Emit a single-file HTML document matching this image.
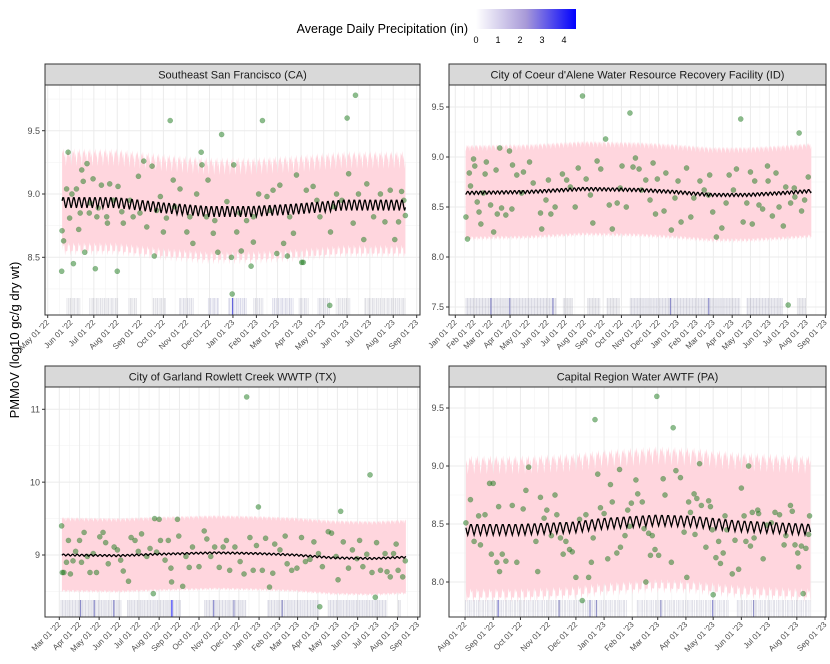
<!DOCTYPE html>
<html><head><meta charset="utf-8"><style>
html,body{margin:0;padding:0;background:#fff}
svg{display:block;font-family:"Liberation Sans",Arial,sans-serif}
</style></head><body>
<svg id="chart" width="830" height="664" viewBox="0 0 830 664">
<defs>
<linearGradient id="precipGrad" x1="0" x2="1" y1="0" y2="0">
<stop offset="0" stop-color="#ffffff"/><stop offset="0.5" stop-color="#a89ad8"/><stop offset="1" stop-color="#0000ff"/>
</linearGradient>
</defs>
<g>
<text x="468" y="33" font-size="12.5" text-anchor="end" fill="#000">Average Daily Precipitation (in)</text>
<rect x="476" y="9" width="100" height="20" fill="url(#precipGrad)"/>
<g font-size="9" fill="#000" text-anchor="middle">
<text x="476" y="43">0</text><text x="498" y="43">1</text><text x="520" y="43">2</text><text x="542" y="43">3</text><text x="564" y="43">4</text>
</g>
</g>
<text transform="translate(19,340) rotate(-90)" font-size="13" text-anchor="middle" fill="#000">PMMoV (log10 gc/g dry wt)</text>
</svg>
<script>
// ---------- DATA ----------
const sfPoints=[[18.5,8.39],[19,8.71],[21,8.63],[27,9.33],[25,9.04],[29,8.81],[34,8.45],[32,9.0],[38,9.04],[41,8.72],[45,9.19],[47,9.1],[49,8.54],[52,9.24],[55,8.85],[63,8.41],[60,9.12],[67,8.89],[71,9.07],[79,8.77],[82,9.08],[92,8.39],[93,9.06],[100,8.77],[109,8.95],[120,9.14],[127,9.26],[131,8.74],[138,9.22],[141,8.51],[149,8.98],[153,8.7],[162,9.58],[166,9.11],[175,9.04],[184,8.7],[192,8.61],[197,9.0],[203,9.33],[204,9.23],[212,9.11],[219,8.69],[225,8.54],[230,9.47],[237,8.94],[243,8.5],[246,9.23],[244,8.21],[250,8.7],[256,8.55],[263,8.79],[269,8.43],[272,8.62],[284,9.58],[279,9.0],[290,8.98],[298,9.03],[307,9.07],[312,8.61],[317,8.51],[325,8.69],[329,9.15],[336,8.46],[338,8.46],[342,9.03],[351,9.06],[360,8.82],[373,8.12],[374,8.7],[382,9.0],[389,8.95],[396,9.6],[398,9.16],[404,8.77],[407,9.78],[411,9.0],[418,8.64],[422,9.08],[431,8.82],[440,9.0],[446,8.78],[453,9.03],[459,8.64],[464,8.78],[468,9.02],[473,8.83],[471,8.95],[378,8.9],[356,8.95],[320,8.82],[303,8.53],[294,8.87],[272,8.82],[254,8.85],[221,8.79],[210,8.82],[188,8.82],[168,8.9],[157,8.81],[144,8.87],[122,8.85],[113,8.82],[98,8.86],[87,8.95],[78,8.82],[65,8.82],[56,8.93],[43,8.85]];
const idPoints=[[17.5,8.40],[20,8.18],[23,8.84],[25,8.71],[30,8.98],[32,8.91],[36,8.55],[39,8.45],[42,8.33],[46,8.64],[49,8.83],[51,8.95],[58,8.52],[63,8.25],[67,8.87],[69,8.43],[73,9.09],[76,8.49],[83,8.42],[89,9.06],[93,8.48],[94,8.92],[101,8.82],[109,8.64],[112,8.85],[122,8.95],[128,8.74],[140,8.44],[142,8.28],[149,8.57],[153,8.77],[157,8.43],[164,8.5],[176,8.83],[183,8.77],[189,8.7],[197,8.5],[202,8.89],[209,9.61],[215,8.78],[222,8.62],[226,8.34],[233,8.96],[239,8.88],[247,9.18],[253,8.52],[258,8.28],[266,8.54],[271,8.69],[274,8.91],[281,8.5],[287,9.44],[292,8.9],[296,8.99],[302,8.88],[306,8.67],[313,8.77],[320,8.57],[325,8.94],[329,8.43],[332,8.78],[343,8.46],[346,8.84],[355,8.27],[361,8.59],[366,8.76],[371,8.35],[380,8.89],[387,8.4],[392,8.59],[402,8.76],[409,8.67],[416,8.62],[423,8.45],[429,8.2],[438,8.29],[445,8.54],[450,8.82],[457,8.67],[462,8.88],[469,9.38],[473,8.35],[479,8.54],[485,8.85],[488,8.33],[492,8.76],[499,8.52],[505,8.48],[513,8.91],[521,8.41],[527,8.84],[532,8.5],[539,8.31],[543,8.7],[547,7.52],[551,8.54],[557,8.69],[565,9.24],[569,8.46],[574,8.57],[580,8.8],[558,8.6],[514,8.76],[418,8.82]];
const txPoints=[[3.6,9.40],[4.6,8.76],[7,8.76],[11,8.9],[14,9.2],[17,8.74],[21,8.92],[25,9.05],[31,9.2],[34,8.9],[38,9.31],[43,8.98],[47,8.76],[52,9.02],[57,8.76],[62,9.25],[67,9.31],[71,9.17],[75,8.88],[84,9.11],[89,9.07],[94,8.93],[98,8.78],[106,8.64],[110,9.24],[116,9.2],[121,9.05],[126,9.29],[134,8.98],[139,9.09],[144,8.47],[146,9.5],[149,9.04],[153,9.49],[155,9.2],[162,8.93],[167,9.2],[171,8.82],[172,8.63],[181,9.49],[183,9.26],[189,8.57],[194,8.98],[199,8.83],[204,9.11],[214,8.84],[222,9.33],[226,9.22],[232,8.98],[238,9.11],[245,8.83],[251,9.11],[256,9.2],[261,8.79],[269,9.11],[277,8.91],[283,8.74],[287,11.17],[292,9.24],[297,8.79],[302,9.13],[305,9.66],[311,8.79],[316,9.23],[322,8.56],[327,8.75],[330,9.15],[338,9.07],[346,9.26],[349,8.88],[356,8.79],[364,8.82],[371,9.24],[377,8.91],[384,8.94],[390,9.18],[397,9.02],[399,8.29],[403,8.84],[412,9.32],[417,9.3],[424,8.98],[427,8.66],[431,9.6],[435,9.18],[443,8.82],[449,9.07],[456,8.95],[460,9.2],[465,8.84],[471,9.01],[476,10.1],[479,8.76],[484,8.42],[486,9.17],[492,8.79],[499,9.02],[502,8.77],[507,8.7],[512,9.02],[516,9.15],[519,8.79],[526,8.7],[530,8.92]];
const paPoints=[[1,8.51],[6,8.71],[10,8.35],[15,8.57],[17,8.32],[22,8.58],[27,8.85],[29,8.24],[31,8.85],[35,8.17],[37,8.65],[38,8.09],[41,8.24],[45,8.18],[52,8.66],[57,8.17],[64,8.63],[67,8.79],[70,8.99],[78,8.35],[80,8.09],[83,8.73],[87,8.55],[90,8.62],[95,8.4],[99,8.75],[101,8.58],[105,8.38],[108,8.24],[111,8.35],[115,8.28],[118,8.26],[122,8.04],[126,8.54],[129,7.84],[133,8.58],[136,8.04],[139,8.17],[141,8.38],[146,8.93],[143,9.4],[149,8.64],[153,8.59],[157,8.2],[160,8.84],[162,8.69],[167,8.25],[170,8.97],[171,8.3],[176,8.4],[179,8.62],[181,8.48],[183,8.68],[188,8.88],[190,8.76],[195,8.69],[197,8.46],[199,8.0],[202,8.42],[204,8.23],[206,8.4],[209,8.28],[211,9.6],[213,8.23],[218,8.89],[220,8.75],[227,8.17],[229,9.33],[232,8.96],[237,8.9],[241,8.43],[244,8.04],[246,8.69],[248,8.6],[252,8.76],[253,8.41],[255,8.72],[258,9.02],[260,8.66],[265,8.3],[268,8.7],[270,8.65],[272,8.45],[273,7.89],[276,8.21],[279,8.35],[281,8.16],[284,8.25],[286,8.57],[288,8.45],[294,8.07],[297,8.36],[301,8.11],[304,8.81],[307,8.57],[309,8.35],[312,9.0],[314,8.31],[316,8.6],[318,8.38],[322,8.62],[323,8.59],[328,8.2],[332,8.49],[337,8.51],[341,8.6],[346,8.58],[351,8.32],[353,8.4],[358,8.66],[360,8.61],[363,8.32],[366,8.25],[367,8.13],[370,8.31],[372,7.9],[375,8.29],[378,8.41],[379,8.57]];
const sfTrend=[[19,8.93],[90,8.93],[150,8.89],[210,8.86],[270,8.86],[330,8.88],[390,8.91],[473,8.91]];
const idTrend=[[17,8.64],[120,8.65],[210,8.68],[300,8.67],[360,8.65],[420,8.62],[480,8.62],[540,8.64],[585,8.66]];
const txTrend=[[4,9.0],[90,8.99],[150,9.01],[240,9.03],[300,9.02],[360,9.0],[420,8.96],[480,8.95],[531,8.97]];
const paTrend=[[1,8.45],[60,8.45],[120,8.47],[150,8.5],[210,8.53],[250,8.52],[300,8.48],[380,8.45]];
const weeklyEffect=[1,0.4,-0.4,-1,-0.4,0.4,1];
const bandJag=[0.03,-0.02,0.05,-0.03,0.01,0.04,-0.01];
// rain spans [startDay, endDay, inches]
const sfRain=[[25,43,0.2],[55,93,0.2],[107,119,0.2],[138,157,0.2],[173,193,0.3],[212,226,0.7],[239,263,0.8],[244,245,2.5],[272,285,0.3],[296,325,0.7],[332,345,0.3],[356,373,0.3],[382,400,0.2],[418,473,0.2]];
const idRain=[[16,166,0.3],[58,59,1.2],[89,90,1.0],[160,161,1.2],[177,194,0.2],[216,238,0.2],[249,270,0.2],[287,468,0.3],[353,354,1.2],[416,417,1.2],[479,539,0.3],[561,577,0.2]];
const txRain=[[2,95,0.3],[32,33,1.2],[53,54,1.2],[83,84,1.3],[103,187,0.3],[172,173,4.3],[222,287,0.4],[236,237,1.3],[267,268,1.0],[318,399,0.4],[341,342,1.0],[412,502,0.4],[519,524,0.2]];
const paRain=[[0,178,0.3],[36,37,1.6],[103,104,1.0],[137,138,1.2],[144,145,1.0],[188,290,0.3],[215,216,1.0],[272,273,1.4],[298,380,0.3],[317,318,1.0]];
const sfYTicks=["8.5","9.0","9.5"];
const idYTicks=["7.5","8.0","8.5","9.0","9.5"];
const txYTicks=["9","10","11"];
const paYTicks=["8.0","8.5","9.0","9.5"];
const monthNames=["Jan","Feb","Mar","Apr","May","Jun","Jul","Aug","Sep","Oct","Nov","Dec"];

const panels=[
 {key:"sf",title:"Southeast San Francisco (CA)",L:45,T:85,R:420,B:315,t0px:47.7,t1px:416.7,start:[2022,4],end:[2023,8],yRef:[9.0,194,126.6],yTicks:sfYTicks,minor:[8.25,8.75,9.25,9.75],pts:sfPoints,trend:sfTrend,amp:0.04,hw:0.36,rain:sfRain,rugTop:298,jag:1},
 {key:"id",title:"City of Coeur d'Alene Water Resource Recovery Facility (ID)",L:449,T:85,R:826,B:315,t0px:455.3,t1px:825.3,start:[2022,0],end:[2023,8],yRef:[9.5,107,100],yTicks:idYTicks,minor:[7.75,8.25,8.75,9.25],pts:idPoints,trend:idTrend,amp:0.015,hw:0.45,rain:idRain,rugTop:298,jag:0.6},
 {key:"tx",title:"City of Garland Rowlett Creek WWTP (TX)",L:45,T:387,R:420,B:617,t0px:59.3,t1px:417.7,start:[2022,2],end:[2023,8],yRef:[9,555,72.85],yTicks:txYTicks,minor:[8.5,9.5,10.5],pts:txPoints,trend:txTrend,amp:0.012,hw:0.49,rain:txRain,rugTop:600,jag:0.6},
 {key:"pa",title:"Capital Region Water AWTF (PA)",L:449,T:387,R:826,B:617,t0px:465,t1px:825,start:[2022,7],end:[2023,8],yRef:[9.5,408,116],yTicks:paYTicks,minor:[7.75,8.25,8.75,9.25],pts:paPoints,trend:paTrend,amp:0.045,hw:0.56,rain:paRain,rugTop:600,jag:1.2}
];
const NS="http://www.w3.org/2000/svg";
const svg=document.getElementById("chart");
function mk(tag,attrs,parent){const e=document.createElementNS(NS,tag);for(const k in attrs)e.setAttribute(k,attrs[k]);(parent||svg).appendChild(e);return e;}
function dayNum(y,m){return Date.UTC(y,m,1)/86400000;}
function interp(tr,d){if(d<=tr[0][0])return tr[0][1];for(let i=1;i<tr.length;i++){if(d<=tr[i][0]){const a=tr[i-1],b=tr[i];return a[1]+(b[1]-a[1])*(d-a[0])/(b[0]-a[0]);}}return tr[tr.length-1][1];}
function rainColor(v){const t=Math.min(v/4.5,1);const r=Math.round(160*(1-t)),g=Math.round(160*(1-t)),b=Math.round(170+85*t);return `rgb(${r},${g},${b})`;}

panels.forEach(p=>{
  const g=mk("g",{});
  
  
  const d0=dayNum(p.start[0],p.start[1]);
  const totalDays=dayNum(p.end[0],p.end[1])-d0;
  const k=(p.t1px-p.t0px)/totalDays;
  const xS=d=>p.t0px+d*k;
  const yS=v=>p.yRef[1]-(v-p.yRef[0])*p.yRef[2];
  mk("rect",{x:p.L,y:p.T,width:p.R-p.L,height:p.B-p.T,fill:"#fff"},g);
  const grid=mk("g",{},g);
  
  
  p.minor.forEach(v=>mk("line",{x1:p.L,x2:p.R,y1:yS(v),y2:yS(v),stroke:"#f3f3f3","stroke-width":0.6},grid));
  const months=[];let y=p.start[0],m=p.start[1];
  while(true){months.push([y,m]);if(y===p.end[0]&&m===p.end[1])break;m++;if(m>11){m=0;y++;}}
  for(let i=0;i<months.length-1;i++){const a=dayNum(...months[i])-d0,b=dayNum(...months[i+1])-d0;const xm=xS((a+b)/2);mk("line",{x1:xm,x2:xm,y1:p.T,y2:p.B,stroke:"#f3f3f3","stroke-width":0.6},grid);}
  p.yTicks.forEach(t=>{const yy=yS(parseFloat(t));mk("line",{x1:p.L,x2:p.R,y1:yy,y2:yy,stroke:"#ebebeb","stroke-width":1},grid);});
  months.forEach(mm=>{const xx=xS(dayNum(...mm)-d0);mk("line",{x1:xx,x2:xx,y1:p.T,y2:p.B,stroke:"#ebebeb","stroke-width":1},grid);});
  const first=p.trend[0][0],last=p.trend[p.trend.length-1][0];
  let up=[],lo=[],ln=[];
  for(let d=Math.ceil(first);d<=last;d++){
    const base=interp(p.trend,d)+p.amp*weeklyEffect[d%7];
    const j=bandJag[d%7]*p.jag;
    up.push(xS(d).toFixed(1)+","+yS(base+p.hw+j).toFixed(1));
    lo.unshift(xS(d).toFixed(1)+","+yS(base-p.hw-j*0.8).toFixed(1));
    ln.push(xS(d).toFixed(1)+","+yS(base).toFixed(1));
  }
  const band=mk("polygon",{points:up.concat(lo).join(" "),fill:"#ffd6de"},g);
  
  
  const rug=mk("g",{},g);
  
  
  p.rain.forEach(r=>{for(let d=r[0];d<r[1];d++){
    const strong=r[2]>0.9;
    if(!strong && (d%5===1||d%5===3)) continue;
    const xx=xS(d+0.5);
    mk("line",{x1:xx,x2:xx,y1:p.rugTop,y2:p.B,stroke:rainColor(r[2]),"stroke-width":strong?1.2:0.9,"stroke-opacity":strong?0.8:0.28},rug);}});
  const pg=mk("g",{},g);
  
  
  p.pts.forEach(pt=>{const c=mk("circle",{cx:xS(pt[0]),cy:yS(pt[1]),r:2.6,fill:"#1a7a1a","fill-opacity":0.5,stroke:"#1a6a1a","stroke-opacity":0.3,"stroke-width":0.5},pg);
    
    });
  const pl=mk("polyline",{points:ln.join(" "),fill:"none",stroke:"#000","stroke-width":1.3},g);
  
  
  mk("rect",{x:p.L,y:p.T,width:p.R-p.L,height:p.B-p.T,fill:"none",stroke:"#333","stroke-width":1},g);
  const st=mk("rect",{x:p.L,y:p.T-21,width:p.R-p.L,height:21,fill:"#d9d9d9",stroke:"#333","stroke-width":1},g);
  
  
  const tt=mk("text",{x:(p.L+p.R)/2,y:p.T-6.5,"font-size":11,"text-anchor":"middle",fill:"#1a1a1a"},g);
  tt.textContent=p.title;
  
  
  p.yTicks.forEach(t=>{const yy=yS(parseFloat(t));mk("line",{x1:p.L-3,x2:p.L,y1:yy,y2:yy,stroke:"#333"},g);
    const tx=mk("text",{x:p.L-5,y:yy+3.2,"font-size":9,"text-anchor":"end",fill:"#4d4d4d"},g);tx.textContent=t;
    
    });
  months.forEach(mm=>{const xx=xS(dayNum(...mm)-d0);mk("line",{x1:xx,x2:xx,y1:p.B,y2:p.B+3,stroke:"#333"},g);
    const tx=mk("text",{transform:`translate(${xx+2},${p.B+8}) rotate(-45)`,"font-size":8,"text-anchor":"end",fill:"#4d4d4d"},g);
    tx.textContent=monthNames[mm[1]]+" 01 '"+String(mm[0]).slice(2);
    
    });
});
</script>
</body></html>
